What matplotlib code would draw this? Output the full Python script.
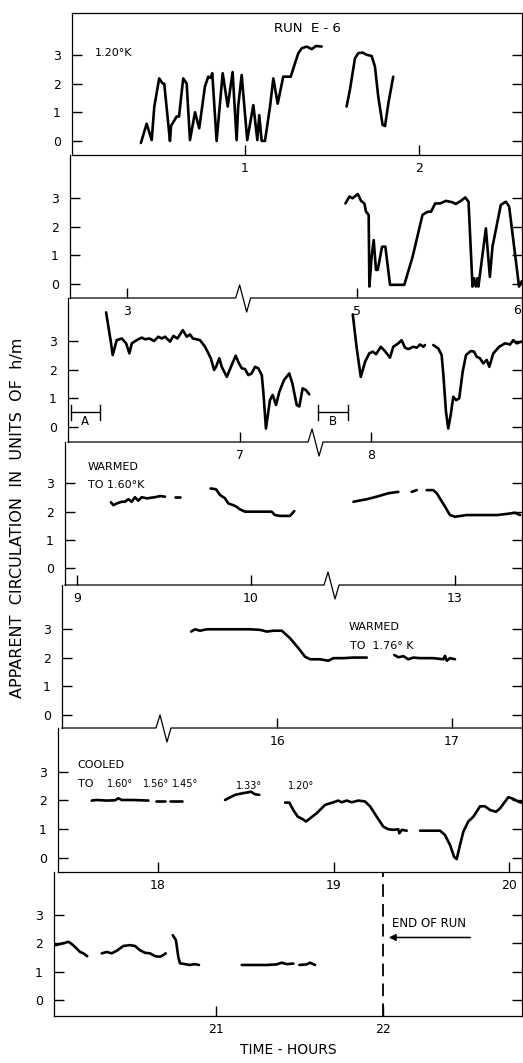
import numpy as np
import matplotlib
matplotlib.use("Agg")
import matplotlib.pyplot as plt

plt.rcParams['font.family'] = ['DejaVu Sans']

# ---------------- data (time in hours, circulation in units of h/m) ----------------
p1_a_t = [0.402, 0.435, 0.464, 0.479, 0.507, 0.527, 0.536, 0.569, 0.575, 0.607, 0.621, 0.645, 0.665,
          0.684, 0.713, 0.737, 0.770, 0.789, 0.803, 0.812, 0.837, 0.872, 0.901, 0.929, 0.952, 0.961,
          0.981, 1.013, 1.048, 1.071, 1.082, 1.096, 1.115, 1.144, 1.163, 1.188, 1.220, 1.263, 1.278,
          1.306, 1.326, 1.355, 1.383, 1.408, 1.441]
p1_a_v = [-0.07, 0.6, 0.03, 1.2, 2.18, 2.0, 2.0, 0.0, 0.52, 0.85, 0.85, 2.18, 2.0,
          0.03, 1.0, 0.44, 1.9, 2.24, 2.2, 2.36, 0.0, 2.36, 1.2, 2.4, 0.03, 1.2,
          2.3, 0.03, 1.25, 0.03, 0.9, 0.0, 0.0, 1.2, 2.18, 1.3, 2.24, 2.24, 2.53,
          3.05, 3.23, 3.29, 3.2, 3.31, 3.29]
p1_b_t = [1.584, 1.603, 1.632, 1.651, 1.676, 1.701, 1.728, 1.747, 1.766, 1.791, 1.805, 1.824, 1.852]
p1_b_v = [1.2, 1.78, 2.88, 3.06, 3.08, 3.0, 2.96, 2.59, 1.54, 0.56, 0.52, 1.31, 2.24]

p2_a_t = [4.931, 4.954, 4.973, 5.002, 5.021, 5.040, 5.050, 5.065, 5.069, 5.082, 5.094, 5.107, 5.117,
          5.142, 5.161, 5.188, 5.270, 5.318, 5.375, 5.404, 5.424, 5.448, 5.477, 5.510, 5.548, 5.567,
          5.596, 5.621, 5.640, 5.663, 5.672, 5.682, 5.691, 5.697, 5.740, 5.763, 5.778, 5.826, 5.855,
          5.874, 5.931, 5.947]
p2_a_v = [2.81, 3.05, 2.99, 3.14, 2.9, 2.81, 2.52, 2.41, -0.09, 0.95, 1.53, 0.49, 0.49,
          1.3, 1.3, -0.03, -0.03, 0.95, 2.41, 2.52, 2.52, 2.81, 2.81, 2.9, 2.85, 2.79,
          2.9, 3.02, 2.87, -0.09, 0.2, -0.09, 0.2, -0.09, 1.94, 0.25, 1.3, 2.76, 2.87,
          2.7, -0.09, 0.1]

p3_a_t = [6.230, 6.257, 6.268, 6.291, 6.320, 6.345, 6.364, 6.378, 6.406, 6.435, 6.454, 6.479, 6.506,
          6.530, 6.550, 6.569, 6.598, 6.617, 6.640, 6.671, 6.694, 6.713, 6.728, 6.751, 6.770, 6.799,
          6.818, 6.832, 6.851, 6.862, 6.881, 6.895, 6.924, 6.952, 6.975, 6.994, 7.010, 7.029, 7.048,
          7.067, 7.086, 7.105, 7.125, 7.134, 7.149, 7.172, 7.188, 7.207, 7.226, 7.253, 7.283, 7.301,
          7.326, 7.341, 7.360, 7.379, 7.398]
p3_a_v = [4.0, 2.98, 2.51, 3.03, 3.09, 2.92, 2.57, 2.92, 3.03, 3.12, 3.06, 3.09, 3.0,
          3.15, 3.09, 3.15, 2.98, 3.18, 3.09, 3.38, 3.15, 3.23, 3.09, 3.06, 3.03, 2.8,
          2.57, 2.4, 1.99, 2.1, 2.4, 2.1, 1.75, 2.16, 2.49, 2.22, 2.05, 2.02, 1.81,
          1.87, 2.1, 2.05, 1.81, 1.23, -0.05, 0.94, 1.12, 0.77, 1.23, 1.64, 1.87, 1.52,
          0.77, 0.72, 1.35, 1.29, 1.14]
p3_b_t = [7.895, 7.918, 7.941, 7.966, 7.990, 8.010, 8.029, 8.056, 8.080, 8.109, 8.128, 8.157, 8.176,
          8.195, 8.214, 8.243, 8.263, 8.282, 8.301, 8.310]
p3_b_v = [3.93, 2.74, 1.75, 2.28, 2.57, 2.63, 2.54, 2.8, 2.65, 2.42, 2.8, 2.92, 3.03,
          2.77, 2.72, 2.8, 2.77, 2.88, 2.8, 2.86]
p3_c_t = [8.358, 8.387, 8.406, 8.416, 8.431, 8.444, 8.458, 8.473, 8.489, 8.507, 8.527, 8.546, 8.573,
          8.592, 8.608, 8.626, 8.645, 8.665, 8.680, 8.703, 8.737, 8.770, 8.799, 8.818, 8.837, 8.866]
p3_c_v = [2.86, 2.74, 2.51, 1.81, 0.53, -0.05, 0.42, 1.06, 0.94, 1.0, 1.93, 2.51, 2.65,
          2.63, 2.45, 2.4, 2.22, 2.34, 2.1, 2.57, 2.8, 2.92, 2.88, 3.03, 2.92, 2.98]

p4_a_t = [9.195, 9.209, 9.228, 9.257, 9.276, 9.295, 9.314, 9.333, 9.352, 9.372, 9.401, 9.448, 9.477, 9.506]
p4_a_v = [2.33, 2.23, 2.29, 2.35, 2.35, 2.44, 2.35, 2.51, 2.39, 2.51, 2.47, 2.51, 2.55, 2.53]
p4_b_t = [9.563, 9.592]
p4_b_v = [2.53, 2.53]
p4_c_t = [9.768, 9.799, 9.822, 9.851, 9.870, 9.898, 9.918, 9.937, 9.966, 10.013, 10.071, 10.119,
          10.138, 10.167, 10.224, 10.249]
p4_c_v = [2.82, 2.79, 2.59, 2.47, 2.29, 2.23, 2.17, 2.08, 2.0, 2.0, 2.0, 2.0, 1.88, 1.85, 1.85, 2.02]
p4_d_t = [12.416, 12.493, 12.550, 12.617, 12.674]
p4_d_v = [2.35, 2.44, 2.53, 2.65, 2.7]
p4_e_t = [12.751, 12.780]
p4_e_v = [2.7, 2.76]
p4_f_t = [12.837, 12.875, 12.895, 12.943, 12.971, 13.0, 13.067, 13.163, 13.240, 13.297, 13.345, 13.374]
p4_f_v = [2.76, 2.76, 2.65, 2.17, 1.88, 1.82, 1.88, 1.88, 1.88, 1.92, 1.96, 1.88]

p5_a_t = [15.509, 15.531, 15.560, 15.598, 15.750, 15.846, 15.903, 15.941, 15.979, 16.027, 16.074,
          16.122, 16.160, 16.189, 16.246, 16.293, 16.322, 16.379, 16.436, 16.513]
p5_a_v = [2.92, 3.0, 2.95, 3.0, 3.0, 3.0, 2.98, 2.92, 2.95, 2.95, 2.69,
          2.34, 2.04, 1.95, 1.95, 1.9, 1.99, 1.99, 2.01, 2.01]
p5_b_t = [16.670, 16.693, 16.722, 16.750, 16.779, 16.817, 16.893, 16.950, 16.960, 16.970, 16.989, 17.017]
p5_b_v = [2.1, 2.02, 2.06, 1.95, 2.01, 1.99, 1.99, 1.95, 2.07, 1.9, 1.99, 1.95]

p6_a_t = [17.622, 17.651, 17.708, 17.755, 17.774, 17.793, 17.859, 17.945]
p6_a_v = [1.99, 2.01, 1.99, 2.0, 2.07, 2.01, 2.01, 1.99]
p6_b_t = [17.989, 18.040]
p6_b_v = [1.99, 1.99]
p6_c_t = [18.068, 18.135]
p6_c_v = [1.97, 1.97]
p6_d_t = [18.382, 18.400, 18.439, 18.486, 18.515, 18.528, 18.553, 18.577]
p6_d_v = [2.01, 2.07, 2.19, 2.25, 2.28, 2.30, 2.21, 2.19]
p6_e_t = [18.724, 18.748, 18.771, 18.796, 18.825, 18.843, 18.866, 18.904, 18.952, 18.999, 19.027,
          19.047, 19.075, 19.104, 19.141, 19.179, 19.208, 19.246, 19.284, 19.312, 19.341, 19.369,
          19.375, 19.389, 19.417]
p6_e_v = [1.92, 1.92, 1.66, 1.43, 1.34, 1.26, 1.37, 1.55, 1.84, 1.93, 1.99,
          1.93, 1.99, 1.93, 1.99, 1.96, 1.79, 1.43, 1.08, 0.99, 0.97, 0.99,
          0.85, 0.97, 0.94]
p6_f_t = [19.493, 19.550, 19.607, 19.635, 19.664, 19.687, 19.702, 19.717, 19.740, 19.768, 19.797,
          19.835, 19.863, 19.892, 19.926, 19.949, 19.977, 19.996, 20.024, 20.053, 20.072]
p6_f_v = [0.94, 0.94, 0.94, 0.79, 0.44, 0.03, -0.05, 0.35, 0.91, 1.26, 1.43,
          1.79, 1.79, 1.66, 1.6, 1.72, 1.95, 2.11, 2.05, 1.95, 1.92]

p7_a_t = [20.042, 20.066, 20.096, 20.116, 20.136, 20.166, 20.186, 20.206, 20.229]
p7_a_v = [1.94, 1.98, 2.02, 2.06, 1.98, 1.82, 1.7, 1.65, 1.55]
p7_b_t = [20.316, 20.346, 20.375, 20.405, 20.445, 20.485, 20.515, 20.545, 20.575, 20.605, 20.635,
          20.665, 20.684, 20.699]
p7_b_v = [1.65, 1.7, 1.65, 1.74, 1.91, 1.94, 1.91, 1.76, 1.67, 1.65, 1.55, 1.53, 1.59, 1.65]
p7_c_t = [20.741, 20.760, 20.774, 20.784, 20.814, 20.844, 20.874, 20.898]
p7_c_v = [2.29, 2.12, 1.53, 1.3, 1.27, 1.24, 1.27, 1.24]
p7_d_t = [21.154, 21.223, 21.304, 21.363, 21.393, 21.423, 21.463]
p7_d_v = [1.24, 1.24, 1.24, 1.26, 1.32, 1.27, 1.29]
p7_e_t = [21.499, 21.543, 21.563, 21.593]
p7_e_v = [1.24, 1.26, 1.32, 1.24]

end_of_run = 22.0
y_ticks = [0, 1, 2, 3]

# ---------------- figure ----------------
W, H, DPI = 523, 1063, 100
fig = plt.figure(figsize=(W / DPI, H / DPI), dpi=DPI)
RIGHT = 522

panels = [
    dict(left=72, top=13, bot=155, xlim=(0.006, 2.592), ylim=(-0.49, 4.46), xt=[1, 2], brk=None,
         segs=[(p1_a_t, p1_a_v), (p1_b_t, p1_b_v)]),
    dict(left=70, top=155, bot=298, xlim=(2.672, 5.948), ylim=(-0.49, 4.5), xt=[3, 5], brk=(3.649, 4.322),
         segs=[(p2_a_t, p2_a_v)]),
    dict(left=68, top=298, bot=442, xlim=(6.011, 8.868), ylim=(-0.52, 4.5), xt=[7, 8], brk=(7.414, 7.661),
         segs=[(p3_a_t, p3_a_v), (p3_b_t, p3_b_v), (p3_c_t, p3_c_v)]),
    dict(left=65, top=442, bot=585, xlim=(8.931, 13.385), ylim=(-0.59, 4.46), xt=[9, 10, 13], brk=(10.443, 12.270),
         segs=[(p4_a_t, p4_a_v), (p4_b_t, p4_b_v), (p4_c_t, p4_c_v), (p4_d_t, p4_d_v),
               (p4_e_t, p4_e_v), (p4_f_t, p4_f_v)]),
    dict(left=62, top=585, bot=728, xlim=(13.385, 17.4), ylim=(-0.455, 4.55), xt=[16, 17], brk=(13.945, 15.331),
         segs=[(p5_a_t, p5_a_v), (p5_b_t, p5_b_v)]),
    dict(left=58, top=728, bot=872, xlim=(17.430, 20.074), ylim=(-0.5, 4.52), xt=[18, 19, 20], brk=None,
         segs=[(p6_a_t, p6_a_v), (p6_b_t, p6_b_v), (p6_c_t, p6_c_v), (p6_d_t, p6_d_v),
               (p6_e_t, p6_e_v), (p6_f_t, p6_f_v)]),
    dict(left=54, top=872, bot=1016, xlim=(20.030, 22.832), ylim=(-0.56, 4.52), xt=[21, 22], brk=None,
         segs=[(p7_a_t, p7_a_v), (p7_b_t, p7_b_v), (p7_c_t, p7_c_v), (p7_d_t, p7_d_v), (p7_e_t, p7_e_v)]),
]


def make_scale(b0, b1, eps=1e-4):
    xp = np.array([-1000.0, b0, b1, 1000.0])
    fp = np.array([-1000.0, b0, b0 + eps, 1000.0 - (b1 - b0) + eps])
    fwd = lambda x: np.interp(x, xp, fp)
    inv = lambda y: np.interp(y, fp, xp)
    return fwd, inv


axes = []
for i, p in enumerate(panels):
    wpx = RIGHT - p['left']
    hpx = p['bot'] - p['top']
    ax = fig.add_axes([p['left'] / W, 1 - p['bot'] / H, wpx / W, hpx / H])
    ax.patch.set_visible(False)
    if p['brk'] is not None:
        fwd, inv = make_scale(*p['brk'])
        ax.set_xscale('function', functions=(fwd, inv))
    ax.set_xlim(*p['xlim'])
    ax.set_ylim(*p['ylim'])
    for t, v in p['segs']:
        ax.plot(t, v, color='black', lw=1.9, solid_capstyle='round', solid_joinstyle='round')
    ax.set_yticks(y_ticks)
    ax.set_yticklabels([str(k) for k in y_ticks])
    ax.set_xticks(p['xt'])
    ax.set_xticklabels([str(k) for k in p['xt']])
    ax.minorticks_off()
    ax.tick_params(axis='y', direction='in', length=7, width=1.0, labelsize=9, pad=8,
                   left=True, right=True)
    ax.tick_params(axis='x', direction='in', length=7, width=1.0, labelsize=9, pad=5,
                   bottom=True, top=False)
    for s in ax.spines.values():
        s.set_linewidth(0.9)
    ax.spines['top'].set_visible(i == 0)
    if p['brk'] is not None:
        ax.spines['bottom'].set_visible(False)
        xb = ax.transAxes.inverted().transform(ax.transData.transform((p['brk'][0], 0)))[0]
        dx = lambda px: px / wpx
        dy = lambda py: py / hpx
        xs = [0, xb - dx(4), xb, xb + dx(7), xb + dx(11), 1]
        ys = [0, 0, dy(13), -dy(14), 0, 0]
        ax.plot(xs, ys, color='black', lw=0.9, transform=ax.transAxes, clip_on=False)
    axes.append(ax)

ax1, ax2, ax3, ax4, ax5, ax6, ax7 = axes

# hour "6" label at the right edge below panel 2 (cut by the page edge in the original)
fig.text(517 / W, 1 - 311 / H, '6', fontsize=9, ha='center', va='center')

# panel 1 annotations
ax1.text(0.138, 3.07, '1.20°K', fontsize=8, ha='left', va='center')
fig.text(307 / W, 1 - 29 / H, 'RUN  E - 6', fontsize=9.5, ha='center', va='center')

# panel 3 brackets A and B
for (xa, xb2, xc, lbl) in [(6.026, 6.195, 6.109, 'A'), (7.697, 7.870, 7.783, 'B')]:
    ax3.plot([xa, xb2], [0.52, 0.52], color='black', lw=1.0)
    ax3.plot([xa, xa], [0.26, 0.78], color='black', lw=1.0)
    ax3.plot([xb2, xb2], [0.26, 0.78], color='black', lw=1.0)
    ax3.text(xc, 0.2, lbl, fontsize=8.5, ha='center', va='center')

# panel 4 annotations
ax4.text(9.063, 3.59, 'WARMED', fontsize=8, ha='left', va='center')
ax4.text(9.063, 2.94, 'TO 1.60°K', fontsize=8, ha='left', va='center')

# panel 5 annotations
ax5.text(16.411, 3.08, 'WARMED', fontsize=8, ha='left', va='center')
ax5.text(16.418, 2.42, 'TO  1.76° K', fontsize=8, ha='left', va='center')

# panel 6 annotations
ax6.text(17.538, 3.23, 'COOLED', fontsize=8, ha='left', va='center')
ax6.text(17.544, 2.57, 'TO', fontsize=8, ha='left', va='center')
for xx, yy, s in [(17.783, 2.57, '1.60°'), (17.991, 2.57, '1.56°'), (18.154, 2.57, '1.45°'),
                  (18.519, 2.50, '1.33°'), (18.815, 2.50, '1.20°')]:
    ax6.text(xx, yy, s, fontsize=7, ha='center', va='center')

# panel 7: end of run
ax7.axvline(end_of_run, color='black', lw=1.3, linestyle=(0, (7, 4)))
ax7.text(22.054, 2.72, 'END OF RUN', fontsize=8.5, ha='left', va='center')
ax7.annotate('', xy=(22.018, 2.21), xytext=(22.539, 2.21),
             arrowprops=dict(arrowstyle='-|>', lw=1.1, color='black', mutation_scale=10))

# axis titles
fig.text(18 / W, 1 - 518 / H, 'APPARENT  CIRCULATION  IN  UNITS  OF  h/m', rotation=90,
         fontsize=11.5, ha='center', va='center')
fig.text(288 / W, 1 - 1050 / H, 'TIME - HOURS', fontsize=10, ha='center', va='center')

fig.savefig('out.png', dpi=DPI)
